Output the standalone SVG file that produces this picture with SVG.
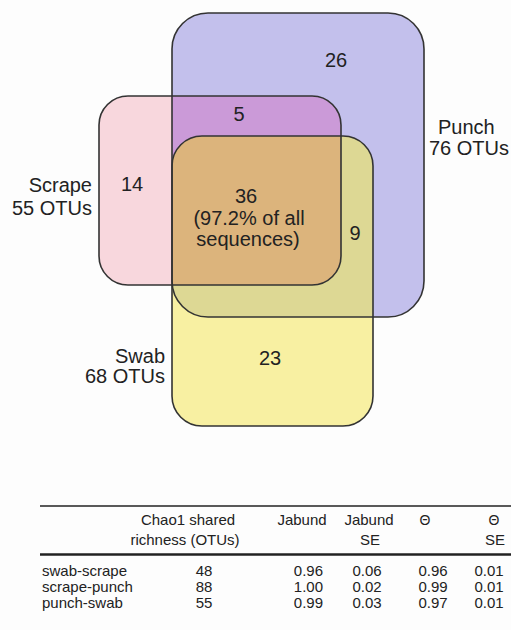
<svg xmlns="http://www.w3.org/2000/svg" width="511" height="630" viewBox="0 0 511 630">
<style>
text{font-family:"Liberation Sans",Arial,Helvetica,sans-serif;fill:#222}
.v{font-size:20px}
.t{font-size:15px}
.c{text-anchor:middle}
.e{text-anchor:end}
.r{text-anchor:end}
.o{fill:none;stroke:#333;stroke-width:1.6}
.rule{stroke:#222;stroke-width:1.4}
</style>
<defs>
<rect id="punchR" x="172" y="13" width="252" height="304" rx="36"/>
<rect id="scrapeR" x="99" y="96" width="242" height="189" rx="29"/>
<rect id="swabR" x="172" y="136" width="201" height="290" rx="30"/>
<clipPath id="cScrape"><use href="#scrapeR"/></clipPath>
<clipPath id="cSwab"><use href="#swabR"/></clipPath>
</defs>
<rect width="511" height="630" fill="#fdfdfd"/>
<g id="punch"><use href="#punchR" fill="#c3c0ec"/></g>
<g id="scrape"><use href="#scrapeR" fill="#f8d7dd"/></g>
<g id="swab"><use href="#swabR" fill="#f8f0a2"/></g>
<g id="overlaps">
<g clip-path="url(#cScrape)"><use href="#punchR" fill="#cb9ad8"/></g>
<g clip-path="url(#cSwab)"><use href="#punchR" fill="#ddd894"/></g>
<g clip-path="url(#cSwab)"><g clip-path="url(#cScrape)"><use href="#punchR" fill="#dcb47c"/></g></g>
</g>
<g id="outlines">
<use href="#punchR" class="o"/>
<use href="#scrapeR" class="o"/>
<use href="#swabR" class="o"/>
</g>
<g id="labels">
<text class="v c" x="336" y="67">26</text>
<text class="v c" x="239" y="121">5</text>
<text class="v c" x="132" y="191">14</text>
<text class="v c" x="246" y="203">36</text>
<text class="v c" x="249" y="225">(97.2% of all</text>
<text class="v c" x="248" y="246">sequences)</text>
<text class="v c" x="355" y="240">9</text>
<text class="v c" x="270" y="365">23</text>
<text class="v" x="438" y="134">Punch</text>
<text class="v" x="429" y="155">76 OTUs</text>
<text class="v e" x="92" y="192">Scrape</text>
<text class="v e" x="92" y="215">55 OTUs</text>
<text class="v e" x="165" y="363">Swab</text>
<text class="v e" x="165" y="383">68 OTUs</text>
</g>
<g id="table">
<line class="rule" x1="40" y1="506" x2="511" y2="506"/>
<line x1="40" y1="554.5" x2="511" y2="554.5" stroke="#222" stroke-width="2.4"/>
<text class="t c" x="188" y="525">Chao1 shared</text>
<text class="t c" x="185" y="545">richness (OTUs)</text>
<text class="t c" x="302" y="525">Jabund</text>
<text class="t c" x="369" y="525">Jabund</text>
<text class="t c" x="370" y="545">SE</text>
<text class="c" x="425" y="525" font-size="14">Θ</text>
<text class="c" x="494" y="525" font-size="14">Θ</text>
<text class="t c" x="495" y="545">SE</text>
<text class="t" x="42" y="576">swab-scrape</text>
<text class="t" x="42" y="592">scrape-punch</text>
<text class="t" x="42" y="608">punch-swab</text>
<text class="t c" x="204" y="576">48</text>
<text class="t c" x="204" y="592">88</text>
<text class="t c" x="204" y="608">55</text>
<text class="t r" x="323" y="576">0.96</text>
<text class="t r" x="323" y="592">1.00</text>
<text class="t r" x="323" y="608">0.99</text>
<text class="t c" x="367" y="576">0.06</text>
<text class="t c" x="367" y="592">0.02</text>
<text class="t c" x="367" y="608">0.03</text>
<text class="t c" x="433" y="576">0.96</text>
<text class="t c" x="433" y="592">0.99</text>
<text class="t c" x="433" y="608">0.97</text>
<text class="t c" x="489" y="576">0.01</text>
<text class="t c" x="489" y="592">0.01</text>
<text class="t c" x="489" y="608">0.01</text>
</g>
</svg>
